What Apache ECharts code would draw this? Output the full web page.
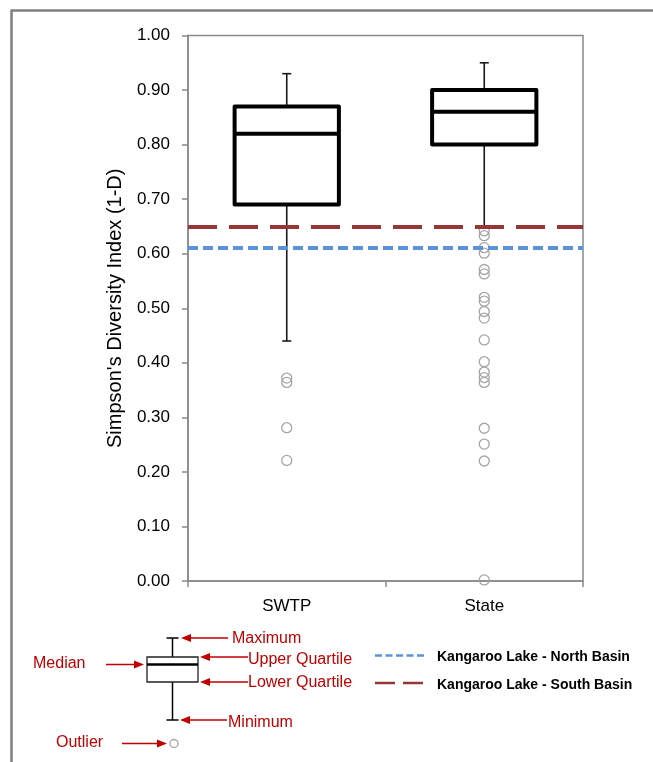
<!DOCTYPE html>
<html>
<head>
<meta charset="utf-8">
<script src="https://cdn.jsdelivr.net/npm/echarts@6/dist/echarts.min.js"></script>
<style>
  html, body { margin: 0; padding: 0; background: #fff; }
  #chart { width: 653px; height: 762px; }
</style>
</head>
<body>
<div id="chart"></div>
<script>
// ---- data ----
const categories = ['SWTP', 'State'];
const boxMin    = [0.44, 0.65];
const boxQ1     = [0.69, 0.80];
const boxMedian = [0.82, 0.86];
const boxQ3     = [0.87, 0.90];
const boxMax    = [0.93, 0.95];
const outliersSWTP  = [0.372, 0.364, 0.281, 0.221];
const outliersState = [0.642, 0.633, 0.611, 0.601, 0.571, 0.563, 0.520, 0.513, 0.494, 0.482,
                       0.442, 0.402, 0.383, 0.373, 0.364, 0.280, 0.251, 0.220, 0.002];
const northBasin = 0.61;
const southBasin = 0.65;
const yMin = 0, yMax = 1, yStep = 0.1;
const yTitle = "Simpson's Diversity Index (1-D)";
const legendNorth = 'Kangaroo Lake - North Basin';
const legendSouth = 'Kangaroo Lake - South Basin';
const keyLabels = { max: 'Maximum', uq: 'Upper Quartile', lq: 'Lower Quartile', min: 'Minimum', med: 'Median', out: 'Outlier' };

// ---- build ----
const FONT = "'Liberation Sans', Arial, sans-serif";
const AXIS_GRAY = '#898989';
const RED = '#C00000';

const boxData = categories.map((c, i) => [i, boxMin[i], boxQ1[i], boxMedian[i], boxQ3[i], boxMax[i]]);
const outlierData = [];
outliersSWTP.forEach(v => outlierData.push([0, v]));
outliersState.forEach(v => outlierData.push([1, v]));

function renderBox(params, api) {
  const x = api.value(0);
  const pMin = api.coord([x, api.value(1)]);
  const pQ1 = api.coord([x, api.value(2)]);
  const pMed = api.coord([x, api.value(3)]);
  const pQ3 = api.coord([x, api.value(4)]);
  const pMax = api.coord([x, api.value(5)]);
  const band = api.size([1, 0])[0];
  const cx = pMed[0];
  const hw = band * 0.264;
  const cap = 4.5;
  const thin = { stroke: '#1a1a1a', lineWidth: 1.6 };
  const thick = { stroke: '#000', lineWidth: 4, lineJoin: 'round' };
  return {
    type: 'group',
    children: [
      { type: 'line', shape: { x1: cx, y1: pMax[1], x2: cx, y2: pQ3[1] }, style: thin },
      { type: 'line', shape: { x1: cx, y1: pQ1[1], x2: cx, y2: pMin[1] }, style: thin },
      { type: 'line', shape: { x1: cx - cap, y1: pMax[1], x2: cx + cap, y2: pMax[1] }, style: thin },
      { type: 'line', shape: { x1: cx - cap, y1: pMin[1], x2: cx + cap, y2: pMin[1] }, style: thin },
      { type: 'rect', shape: { x: cx - hw, y: pQ3[1], width: 2 * hw, height: pQ1[1] - pQ3[1] },
        style: Object.assign({ fill: '#fff' }, thick) },
      { type: 'line', shape: { x1: cx - hw, y1: pMed[1], x2: cx + hw, y2: pMed[1] }, style: thick }
    ]
  };
}

function arrow(xTail, xTip, y) {
  const dir = xTip < xTail ? 1 : -1;
  const L = 10, H = 4;
  return [
    { type: 'line', shape: { x1: xTail, y1: y, x2: xTip + dir * L * 0.8, y2: y },
      style: { stroke: RED, lineWidth: 1.5 } },
    { type: 'polygon', shape: { points: [[xTip, y], [xTip + dir * L, y - H], [xTip + dir * L, y + H]] },
      style: { fill: RED } }
  ];
}
function redText(txt, x, y, align) {
  return { type: 'text', x: x, y: y,
    style: { text: txt, fill: RED, font: "16px " + FONT, textAlign: align || 'left', textVerticalAlign: 'middle' } };
}

const keyEls = [].concat(
  [
    { type: 'line', shape: { x1: 172.5, y1: 638, x2: 172.5, y2: 657 }, style: { stroke: '#000', lineWidth: 1.5 } },
    { type: 'line', shape: { x1: 172.5, y1: 682, x2: 172.5, y2: 720 }, style: { stroke: '#000', lineWidth: 1.5 } },
    { type: 'line', shape: { x1: 166.5, y1: 638, x2: 178.5, y2: 638 }, style: { stroke: '#000', lineWidth: 1.5 } },
    { type: 'line', shape: { x1: 166.5, y1: 720, x2: 178.5, y2: 720 }, style: { stroke: '#000', lineWidth: 1.5 } },
    { type: 'rect', shape: { x: 147, y: 657, width: 51, height: 25 }, style: { fill: '#fff', stroke: '#222', lineWidth: 1.3 } },
    { type: 'line', shape: { x1: 147, y1: 664.5, x2: 198, y2: 664.5 }, style: { stroke: '#000', lineWidth: 2.5 } },
    { type: 'circle', shape: { cx: 174, cy: 743.5, r: 4 }, style: { fill: 'none', stroke: '#a5a5a5', lineWidth: 1.3 } }
  ],
  arrow(228, 181, 638),
  arrow(248, 200, 657),
  arrow(248, 200, 682),
  arrow(227, 180, 720),
  arrow(106, 144, 664.5),
  arrow(122, 167, 743.5),
  [
    redText(keyLabels.max, 232, 639),
    redText(keyLabels.uq, 248, 660),
    redText(keyLabels.lq, 248, 683),
    redText(keyLabels.min, 228, 723),
    redText(keyLabels.med, 33, 664),
    redText(keyLabels.out, 56, 743),
    { type: 'line', shape: { x1: 375, y1: 655.5, x2: 424, y2: 655.5 },
      style: { stroke: '#5B92D8', lineWidth: 2.5, lineDash: [7, 3.5] } },
    { type: 'line', shape: { x1: 375, y1: 683, x2: 424, y2: 683 },
      style: { stroke: '#953735', lineWidth: 2.5, lineDash: [20, 8] } },
    { type: 'text', x: 437, y: 657, style: { text: legendNorth, fill: '#000', font: "bold 14px " + FONT, textVerticalAlign: 'middle' } },
    { type: 'text', x: 437, y: 685, style: { text: legendSouth, fill: '#000', font: "bold 14px " + FONT, textVerticalAlign: 'middle' } },
    { type: 'line', shape: { x1: 11.5, y1: 10.5, x2: 11.5, y2: 762 }, style: { stroke: '#7f7f7f', lineWidth: 2.5 } },
    { type: 'line', shape: { x1: 10.5, y1: 10.5, x2: 653, y2: 10.5 }, style: { stroke: '#7f7f7f', lineWidth: 2.5 } }
  ]
);

const chart = echarts.init(document.getElementById('chart'), null, { renderer: 'canvas' });
chart.setOption({
  animation: false,
  backgroundColor: '#fff',
  textStyle: { fontFamily: FONT },
  grid: { left: 188, right: 70, top: 35.5, bottom: 181, show: true, borderColor: AXIS_GRAY, borderWidth: 1.5, backgroundColor: 'transparent' },
  xAxis: {
    type: 'category',
    data: categories,
    boundaryGap: true,
    axisLine: { show: true, lineStyle: { color: AXIS_GRAY, width: 1.5 } },
    axisTick: { show: true, length: 6, alignWithLabel: false, lineStyle: { color: AXIS_GRAY, width: 1.5 } },
    axisLabel: { fontSize: 17, color: '#000', margin: 17, fontFamily: FONT },
    splitLine: { show: false }
  },
  yAxis: {
    type: 'value',
    min: yMin, max: yMax, interval: yStep,
    name: yTitle,
    nameLocation: 'middle',
    nameGap: 63,
    nameTextStyle: { fontSize: 20, color: '#000', fontFamily: FONT },
    axisLine: { show: true, lineStyle: { color: AXIS_GRAY, width: 1.5 } },
    axisTick: { show: true, length: 6, inside: false, lineStyle: { color: AXIS_GRAY, width: 1.5 } },
    axisLabel: { fontSize: 17, color: '#000', margin: 18, fontFamily: FONT, formatter: v => v.toFixed(2) },
    splitLine: { show: false }
  },
  series: [
    {
      type: 'custom',
      name: 'box',
      renderItem: renderBox,
      data: boxData,
      encode: { x: 0, y: [1, 2, 3, 4, 5] },
      z: 2
    },
    {
      type: 'scatter',
      name: 'outliers',
      data: outlierData,
      symbol: 'circle',
      symbolSize: 10,
      itemStyle: { color: 'rgba(255,255,255,0)', borderColor: '#a5a5a5', borderWidth: 1.3, opacity: 1 },
      z: 3,
      markLine: {
        silent: true,
        symbol: ['none', 'none'],
        label: { show: false },
        animation: false,
        data: [
          { name: legendSouth, yAxis: southBasin, lineStyle: { color: '#953735', width: 4, type: [29, 12], opacity: 1 } },
          { name: legendNorth, yAxis: northBasin, lineStyle: { color: '#5B92D8', width: 4, type: [10, 5], opacity: 1 } }
        ]
      }
    }
  ],
  graphic: { elements: keyEls }
});
</script>
</body>
</html>
